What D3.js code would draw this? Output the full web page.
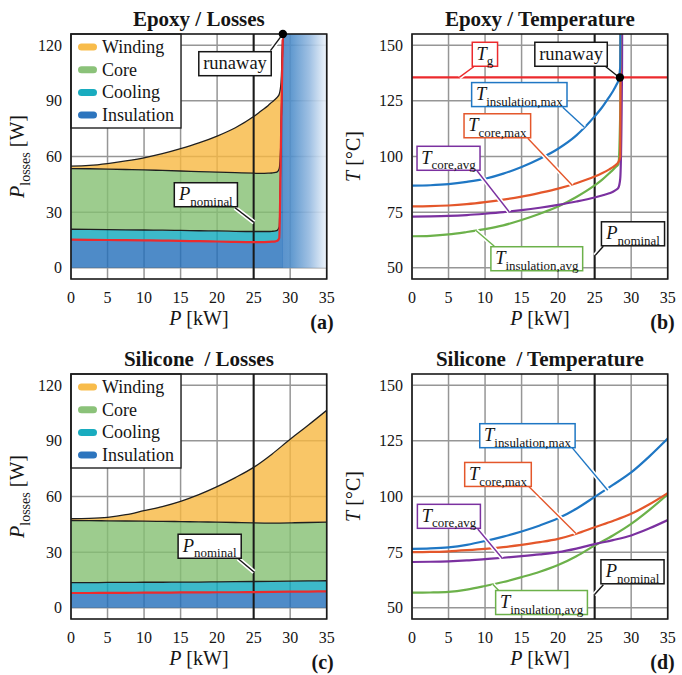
<!DOCTYPE html>
<html><head><meta charset="utf-8">
<script src="https://cdn.jsdelivr.net/npm/d3@7"></script>
<style>
body{margin:0;background:#fff}
svg{display:block}
</style>
</head><body>
<svg id="chart" width="682" height="675" font-family="'Liberation Serif', Tinos, 'Times New Roman', 'DejaVu Serif', 'Noto Serif', serif"></svg>
<script>
// ---------------- DATA ----------------
const xTicks = [0, 5, 10, 15, 20, 25, 30, 35];
const lossTicks = [0, 30, 60, 90, 120];
const tempTicks = [50, 75, 100, 125, 150];
const lossCategories = ["Insulation", "Cooling", "Core", "Winding"];
const P_nominal = 25;

// Epoxy – losses (stacked components, W)
const epoxyP = [0, 2.5, 5, 7.5, 10, 12.5, 15, 17.5, 20, 22.5, 25, 26, 27, 27.5, 28, 28.25, 28.5, 28.75, 29];
const epoxyInsulation = [15.2, 15.1, 15.0, 14.9, 14.8, 14.7, 14.5, 14.4, 14.2, 14.0, 13.9, 13.9, 14.0, 14.1, 14.3, 14.6, 16.0, 70, 128];
const epoxyCooling    = [5.6, 5.6, 5.6, 5.6, 5.6, 5.6, 5.7, 5.6, 5.7, 5.7, 5.7, 5.7, 5.6, 5.6, 5.6, 5.7, 6.0, 0.5, 0.3];
const epoxyCore       = [32.7, 32.7, 32.6, 32.5, 32.4, 32.2, 32.0, 31.9, 31.7, 31.6, 31.4, 31.3, 31.4, 31.4, 31.5, 31.5, 31.5, 1.0, 0.3];
const epoxyWinding    = [1.3, 1.8, 3.0, 4.6, 6.5, 9.0, 12.0, 15.4, 19.4, 24.2, 30.5, 33.6, 36.5, 38.2, 39.6, 40.2, 40.0, 28.5, 0.4];
const epoxyRunawayStart = 29.0;
const epoxyRunawayLoss = [29.0, 126];

// Epoxy – temperatures (°C)
const epoxyTinsMax  = [86.9, 87.1, 87.6, 88.6, 90.0, 92.3, 95.3, 99.0, 103.5, 109.5, 118.0, 122.0, 126.8, 129.3, 132.3, 134.2, 140, 400, 400];
const epoxyTcoreMax = [77.6, 77.7, 78.0, 78.6, 79.5, 80.6, 82.0, 83.7, 85.6, 88.0, 91.0, 92.5, 94.2, 95.2, 96.5, 97.5, 100, 300, 400];
const epoxyTcoreAvg = [73.0, 73.1, 73.3, 73.7, 74.3, 75.0, 75.9, 77.0, 78.3, 79.8, 81.6, 82.5, 83.5, 84.2, 85.2, 86.0, 90, 140, 400];
const epoxyTinsAvg  = [64.2, 64.4, 65.0, 66.1, 67.4, 69.1, 71.5, 74.3, 77.5, 81.8, 87.0, 89.5, 92.5, 94.0, 95.6, 96.5, 120, 400, 400];
const epoxyTg = 135.5;
const epoxyRunawayTemp = [28.45, 135.5];

// Silicone – losses (stacked components, W)
const siliconeP = [0, 2.5, 5, 7.5, 10, 12.5, 15, 17.5, 20, 22.5, 25, 27.5, 30, 32.5, 35];
const siliconeInsulation = [8.0, 8.0, 8.1, 8.1, 8.2, 8.2, 8.3, 8.3, 8.4, 8.4, 8.5, 8.6, 8.7, 8.8, 8.9];
const siliconeCooling    = [5.6, 5.6, 5.6, 5.6, 5.6, 5.6, 5.6, 5.6, 5.6, 5.7, 5.7, 5.7, 5.7, 5.7, 5.7];
const siliconeCore       = [33.4, 33.4, 33.2, 33.1, 32.9, 32.8, 32.6, 32.4, 32.2, 31.9, 31.6, 31.4, 31.4, 31.5, 31.6];
const siliconeWinding    = [1.0, 1.2, 1.9, 3.4, 5.7, 8.0, 10.9, 14.7, 19.1, 24.2, 29.9, 37.1, 45.1, 52.5, 60.2];

// Silicone – temperatures (°C)
const siliconeTinsMax  = [76.5, 76.7, 77.2, 78.3, 80.0, 82.0, 84.3, 87.0, 90.2, 94.5, 99.8, 105.2, 110.8, 118.0, 126.0];
const siliconeTcoreMax = [75.0, 75.1, 75.4, 75.9, 76.5, 77.3, 78.3, 79.5, 81.0, 83.3, 86.2, 89.0, 92.2, 96.5, 101.5];
const siliconeTcoreAvg = [70.6, 70.7, 70.9, 71.3, 71.9, 72.5, 73.2, 74.0, 75.0, 76.6, 78.6, 80.4, 82.5, 85.7, 89.4];
const siliconeTinsAvg  = [56.8, 56.9, 57.2, 58.2, 59.8, 61.6, 63.8, 66.2, 69.2, 73.2, 78.0, 82.5, 87.7, 94.0, 101.0];

// ---------------- STYLE / LAYOUT ----------------
const FONT = "'Liberation Serif', Tinos, 'Times New Roman', 'DejaVu Serif', 'Noto Serif', serif";
const fillColor = {Insulation: "#226EBA", Cooling: "#0DA8BC", Core: "#85BF72", Winding: "#F8B841"};
const col = {blue: "#1f77c4", orange: "#e4572b", purple: "#7b31a0", green: "#6cb14a", red: "#ec2a2d", black: "#161616"};
const PW = 255.7, PH = 245;
const pos = {a: [71, 34], b: [412, 34], c: [71, 374], d: [412, 374]};

const svg = d3.select("#chart");
const defs = svg.append("defs");

function txt(sel) { return sel.append("text").attr("font-family", FONT).attr("fill", "#151515"); }

function rich(sel, parts, size) {
  let shift = 0;
  parts.forEach(p => {
    const ts = sel.append("tspan").text(p.t);
    const target = p.sub ? size * 0.3 : 0;
    if (target !== shift) { ts.attr("dy", target - shift); shift = target; }
    ts.attr("font-size", p.sub ? size * 0.7 : size);
    if (p.italic) ts.attr("font-style", "italic");
  });
}

function panel(key, yDomain, yTicks, title, ylabel, ylabelX) {
  const [px, py] = pos[key];
  const g = svg.append("g").attr("transform", `translate(${px},${py})`);
  const x = d3.scaleLinear().domain([0, 35]).range([0, PW]);
  const y = d3.scaleLinear().domain(yDomain).range([PH, 0]);
  defs.append("clipPath").attr("id", "clip" + key).append("rect").attr("width", PW).attr("height", PH);
  const grid = g.append("g");
  grid.selectAll(".gx").data(xTicks).join("line")
    .attr("x1", d => x(d)).attr("x2", d => x(d)).attr("y1", 0).attr("y2", PH)
    .attr("stroke", "#969696").attr("stroke-width", 1.5);
  grid.selectAll(".gy").data(yTicks).join("line")
    .attr("y1", d => y(d)).attr("y2", d => y(d)).attr("x1", 0).attr("x2", PW)
    .attr("stroke", "#969696").attr("stroke-width", 1.5);
  const content = g.append("g").attr("clip-path", `url(#clip${key})`);
  xTicks.forEach(d => txt(g).attr("x", x(d)).attr("y", PH + 24).attr("text-anchor", "middle")
    .attr("font-size", 16).text(d));
  yTicks.forEach(d => txt(g).attr("x", -9).attr("y", y(d) + 5.5).attr("text-anchor", "end")
    .attr("font-size", 16).text(d));
  txt(g).attr("x", PW / 2).attr("y", -8.5).attr("text-anchor", "middle")
    .attr("font-size", 21).attr("font-weight", "bold").style("white-space", "pre").text(title);
  const xl = txt(g).attr("x", PW / 2).attr("y", PH + 46).attr("text-anchor", "middle");
  rich(xl, [{t: "P", italic: true}, {t: " [kW]"}], 20);
  txt(g).attr("x", PW + 7).attr("y", PH + 50).attr("text-anchor", "end")
    .attr("font-size", 20).attr("font-weight", "bold").text(`(${key})`);
  const yl = txt(g).attr("transform", `translate(${ylabelX},${PH / 2}) rotate(-90)`)
    .attr("text-anchor", "middle");
  rich(yl, ylabel, 20);
  return {g, x, y, content};
}

function frame(p) {
  p.g.append("rect").attr("width", PW).attr("height", PH).attr("fill", "none")
    .attr("stroke", "#1a1a1a").attr("stroke-width", 1.6);
}

function nominalLine(p) {
  p.content.append("line").attr("x1", p.x(P_nominal)).attr("x2", p.x(P_nominal))
    .attr("y1", 0).attr("y2", PH).attr("stroke", "#1a1a1a").attr("stroke-width", 2);
}

function annotate(p, list) {
  list.forEach(a => {
    const pts = [[p.x(a.fx), p.y(a.fy)], [p.x(a.tx), p.y(a.ty)]];
    p.g.append("path").attr("d", d3.line()(pts)).attr("stroke", "#fff").attr("stroke-width", 4.5).attr("fill", "none");
    p.g.append("path").attr("d", d3.line()(pts)).attr("stroke", a.color).attr("stroke-width", 1.4).attr("fill", "none");
  });
  list.forEach(a => {
    const bg = p.g.append("g").attr("transform", `translate(${p.x(a.cx)},${p.y(a.cy)})`);
    const rect = bg.append("rect");
    const t = txt(bg).attr("text-anchor", "middle").attr("y", 5.5);
    rich(t, a.parts, 18.5);
    const bb = t.node().getBBox();
    const w = bb.width + 8, h = 24;
    rect.attr("x", -w / 2).attr("y", -h / 2).attr("width", w).attr("height", h)
      .attr("fill", "#fff").attr("stroke", a.color).attr("stroke-width", 1.5);
  });
}

function lossPanel(key, P, comps, title, runawayStart) {
  const p = panel(key, [-6, 126], lossTicks, title,
    [{t: "P", italic: true}, {t: "losses", sub: true}, {t: " [W]"}], -47);
  const rows = P.map((v, i) => ({P: v, Insulation: comps.Insulation[i], Cooling: comps.Cooling[i], Core: comps.Core[i], Winding: comps.Winding[i]}));
  const stack = d3.stack().keys(lossCategories)(rows);
  if (runawayStart != null) {
    const gid = "grad" + key;
    const gr = defs.append("linearGradient").attr("id", gid).attr("gradientUnits", "userSpaceOnUse")
      .attr("x1", p.x(runawayStart)).attr("x2", p.x(35)).attr("y1", 0).attr("y2", 0);
    [[0, "#4a88c7"], [0.2, "#5290cb"], [0.6, "#94b9e0"], [1, "#eef4fb"]].forEach(s =>
      gr.append("stop").attr("offset", s[0]).attr("stop-color", s[1]));
    const yTop = p.y.domain()[1];
    p.content.append("rect").attr("x", p.x(runawayStart) - 0.5).attr("y", p.y(yTop))
      .attr("width", p.x(35) - p.x(runawayStart) + 0.5).attr("height", p.y(0) - p.y(yTop))
      .attr("fill", `url(#${gid})`).attr("fill-opacity", 0.9);
  }
  const area = d3.area().x(d => p.x(d.data.P)).y0(d => p.y(d[0])).y1(d => p.y(d[1])).curve(d3.curveMonotoneX);
  const line = d3.line().x(d => p.x(d.data.P)).y(d => p.y(d[1])).curve(d3.curveMonotoneX);
  p.content.selectAll(".ar").data(stack).join("path")
    .attr("d", area).attr("fill", d => fillColor[d.key]).attr("fill-opacity", 0.8);
  nominalLine(p);
  stack.slice().reverse().forEach(s => {
    p.content.append("path").attr("d", line(s)).attr("fill", "none")
      .attr("stroke", s.key === "Insulation" ? col.red : "#1f1f1f")
      .attr("stroke-width", s.key === "Insulation" ? 2.2 : 1.3);
  });
  const lg = p.g.append("g");
  lg.append("rect").attr("width", 110).attr("height", 94).attr("fill", "#fff")
    .attr("stroke", "#222").attr("stroke-width", 1.4);
  lossCategories.slice().reverse().forEach((k, i) => {
    const cy = 13 + i * 22.7;
    lg.append("rect").attr("x", 7).attr("y", cy - 3.5).attr("width", 19).attr("height", 7).attr("rx", 3.5)
      .attr("fill", fillColor[k]).attr("fill-opacity", 0.95);
    txt(lg).attr("x", 31).attr("y", cy + 6).attr("font-size", 18).text(k);
  });
  return p;
}

function tempPanel(key, P, series, title) {
  const p = panel(key, [45, 155], tempTicks, title, [{t: "T", italic: true}, {t: " [°C]"}], -52);
  nominalLine(p);
  const line = d3.line().x(d => p.x(d[0])).y(d => p.y(d[1])).curve(d3.curveMonotoneX);
  series.forEach(s => {
    p.content.append("path").attr("d", line(P.map((v, i) => [v, s.values[i]])))
      .attr("fill", "none").attr("stroke", s.color).attr("stroke-width", 2.2);
  });
  return p;
}

// ---------------- PANEL (a) ----------------
const pa = lossPanel("a", epoxyP,
  {Insulation: epoxyInsulation, Cooling: epoxyCooling, Core: epoxyCore, Winding: epoxyWinding},
  "Epoxy / Losses", epoxyRunawayStart);
annotate(pa, [
  {parts: [{t: "runaway"}], color: col.black, cx: 22.45, cy: 110, fx: 27.3, fy: 117, tx: 28.9, ty: 125.5},
  {parts: [{t: "P", italic: true}, {t: "nominal", sub: true}], color: col.black, cx: 18.46, cy: 39.4, fx: 22.45, fy: 32.4, tx: 25.05, ty: 24.5}
]);
frame(pa);
pa.g.append("circle").attr("cx", pa.x(epoxyRunawayLoss[0])).attr("cy", pa.y(epoxyRunawayLoss[1])).attr("r", 4.2).attr("fill", "#000");

// ---------------- PANEL (b) ----------------
const pb = tempPanel("b", epoxyP, [
  {values: epoxyTinsAvg, color: col.green},
  {values: epoxyTcoreAvg, color: col.purple},
  {values: epoxyTcoreMax, color: col.orange},
  {values: epoxyTinsMax, color: col.blue}
], "Epoxy / Temperature");
pb.content.append("line").attr("x1", 0).attr("x2", PW).attr("y1", pb.y(epoxyTg)).attr("y2", pb.y(epoxyTg))
  .attr("stroke", col.red).attr("stroke-width", 2.2);
annotate(pb, [
  {parts: [{t: "T", italic: true}, {t: "g", sub: true}], color: col.red, cx: 9.98, cy: 145.9, fx: 8.45, fy: 140.3, tx: 6.47, ty: 135.5},
  {parts: [{t: "runaway"}], color: col.black, cx: 21.77, cy: 145.9, fx: 26.28, fy: 141, tx: 28.38, ty: 135.5},
  {parts: [{t: "T", italic: true}, {t: "insulation,max", sub: true}], color: col.blue, cx: 14.69, cy: 127.8, fx: 20.63, fy: 122.1, tx: 23.59, ty: 113.1},
  {parts: [{t: "T", italic: true}, {t: "core,max", sub: true}], color: col.orange, cx: 11.68, cy: 113.8, fx: 15.84, fy: 108.2, tx: 21.9, ty: 87.2},
  {parts: [{t: "T", italic: true}, {t: "core,avg", sub: true}], color: col.purple, cx: 5.0, cy: 99.2, fx: 8.9, fy: 93.6, tx: 13.32, ty: 75.1},
  {parts: [{t: "T", italic: true}, {t: "insulation,avg", sub: true}], color: col.green, cx: 17.08, cy: 54.1, fx: 11.27, fy: 59.7, tx: 8.76, ty: 66.8},
  {parts: [{t: "P", italic: true}, {t: "nominal", sub: true}], color: col.black, cx: 30.25, cy: 65.3, fx: 26.19, fy: 59.7, tx: 25.05, ty: 55.5}
]);
frame(pb);
pb.g.append("circle").attr("cx", pb.x(epoxyRunawayTemp[0])).attr("cy", pb.y(epoxyRunawayTemp[1])).attr("r", 4.2).attr("fill", "#000");

// ---------------- PANEL (c) ----------------
const pc = lossPanel("c", siliconeP,
  {Insulation: siliconeInsulation, Cooling: siliconeCooling, Core: siliconeCore, Winding: siliconeWinding},
  "Silicone  / Losses", null);
annotate(pc, [
  {parts: [{t: "P", italic: true}, {t: "nominal", sub: true}], color: col.black, cx: 18.98, cy: 33.2, fx: 22.9, fy: 26.5, tx: 25.05, ty: 19.3}
]);
frame(pc);

// ---------------- PANEL (d) ----------------
const pd = tempPanel("d", siliconeP, [
  {values: siliconeTinsAvg, color: col.green},
  {values: siliconeTcoreAvg, color: col.purple},
  {values: siliconeTcoreMax, color: col.orange},
  {values: siliconeTinsMax, color: col.blue}
], "Silicone  / Temperature");
annotate(pd, [
  {parts: [{t: "T", italic: true}, {t: "insulation,max", sub: true}], color: col.blue, cx: 15.8, cy: 127.3, fx: 21.77, fy: 122.5, tx: 26.79, ty: 102.8},
  {parts: [{t: "T", italic: true}, {t: "core,max", sub: true}], color: col.orange, cx: 11.77, cy: 109.9, fx: 15.92, fy: 104.7, tx: 22.45, ty: 83.4},
  {parts: [{t: "T", italic: true}, {t: "core,avg", sub: true}], color: col.purple, cx: 5.05, cy: 91.1, fx: 9.0, fy: 85.4, tx: 12.32, ty: 72.4},
  {parts: [{t: "T", italic: true}, {t: "insulation,avg", sub: true}], color: col.green, cx: 17.73, cy: 52.4, fx: 11.87, fy: 57.8, tx: 11.05, ty: 60.6},
  {parts: [{t: "P", italic: true}, {t: "nominal", sub: true}], color: col.black, cx: 30.18, cy: 66.2, fx: 26.19, fy: 60.4, tx: 24.96, ty: 55.9}
]);
frame(pd);
</script>
</body></html>
